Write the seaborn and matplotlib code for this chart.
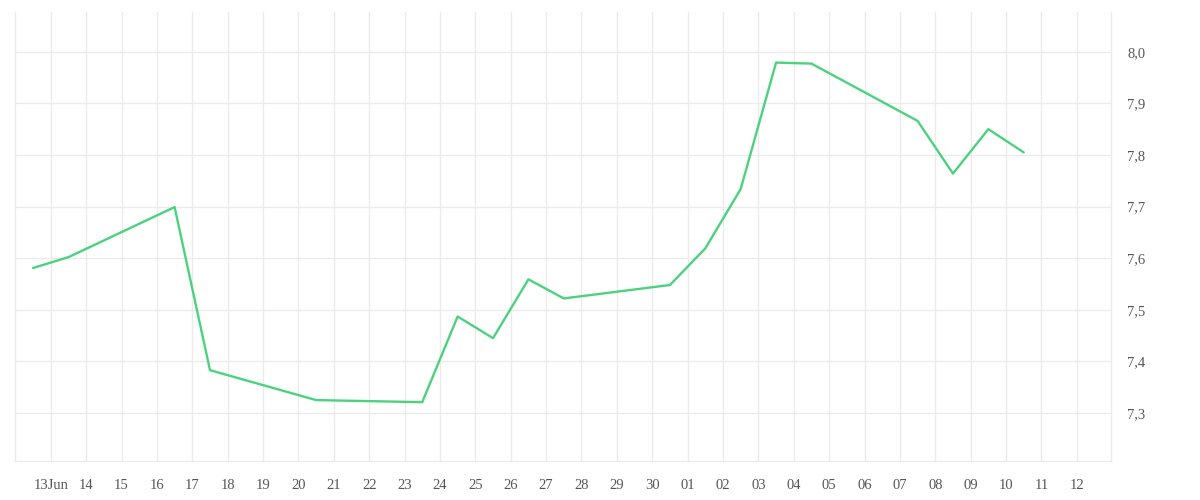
import matplotlib
matplotlib.use("Agg")
import matplotlib.pyplot as plt
import matplotlib.dates as mdates
from matplotlib.ticker import FuncFormatter, FixedLocator
import seaborn as sns
import pandas as pd
import numpy as np

# ---- data ----
dates = ["2025-06-12 12:00", "2025-06-13 12:00", "2025-06-16 12:00", "2025-06-17 12:00",
         "2025-06-20 12:00", "2025-06-23 12:00", "2025-06-24 12:00", "2025-06-25 12:00",
         "2025-06-26 12:00", "2025-06-27 12:00", "2025-06-30 12:00", "2025-07-01 12:00",
         "2025-07-02 12:00", "2025-07-03 12:00", "2025-07-04 12:00", "2025-07-07 12:00",
         "2025-07-08 12:00", "2025-07-09 12:00", "2025-07-10 12:00"]
values = [7.581, 7.602, 7.699, 7.383, 7.325, 7.321, 7.487, 7.445, 7.559, 7.522,
          7.548, 7.619, 7.734, 7.979, 7.977, 7.866, 7.764, 7.850, 7.805]
tick_days = pd.date_range("2025-06-13", "2025-07-12", freq="D")
y_ticks = [7.3, 7.4, 7.5, 7.6, 7.7, 7.8, 7.9, 8.0]

df = pd.DataFrame({"date": pd.to_datetime(dates), "value": values})

sns.set_theme(style="white")
plt.rcParams["font.family"] = ["Liberation Serif", "DejaVu Serif"]

grid_c = "#ebebeb"
fig = plt.figure(figsize=(12, 5), dpi=100)
ax = fig.add_axes([15.4 / 1200, 1 - 461 / 500, (1110.7 - 15.4) / 1200, (461 - 12) / 500])

sns.lineplot(data=df, x="date", y="value", ax=ax, color="#4cd27e", linewidth=1.7)

ax.set_xlim(pd.Timestamp("2025-06-12"), pd.Timestamp("2025-07-12 23:00"))
ax.set_ylim(7.207, 8.077)

ax.xaxis.set_major_locator(FixedLocator(mdates.date2num(tick_days)))
def fmt(x, pos):
    d = mdates.num2date(x)
    if d.day == 13 and d.month == 6:
        return "13Jun"
    return d.strftime("%d")
ax.xaxis.set_major_formatter(FuncFormatter(fmt))

ax.set_yticks(y_ticks)
ax.yaxis.set_major_formatter(FuncFormatter(lambda v, p: f"{v:.1f}".replace(".", ",")))
ax.yaxis.tick_right()

ax.grid(True, color=grid_c, linewidth=1.0)
ax.set_axisbelow(True)
for s in ["left", "right", "bottom"]:
    ax.spines[s].set_color(grid_c)
    ax.spines[s].set_linewidth(1.0)
ax.spines["top"].set_visible(False)

ax.tick_params(axis="x", length=5, width=1, color=grid_c, pad=8, labelsize=10.5, labelcolor="#555555")
ax.tick_params(axis="y", length=0, pad=12, labelsize=10.5, labelcolor="#555555")
ax.set_xlabel("")
ax.set_ylabel("")

fig.savefig("out.png", dpi=100)
